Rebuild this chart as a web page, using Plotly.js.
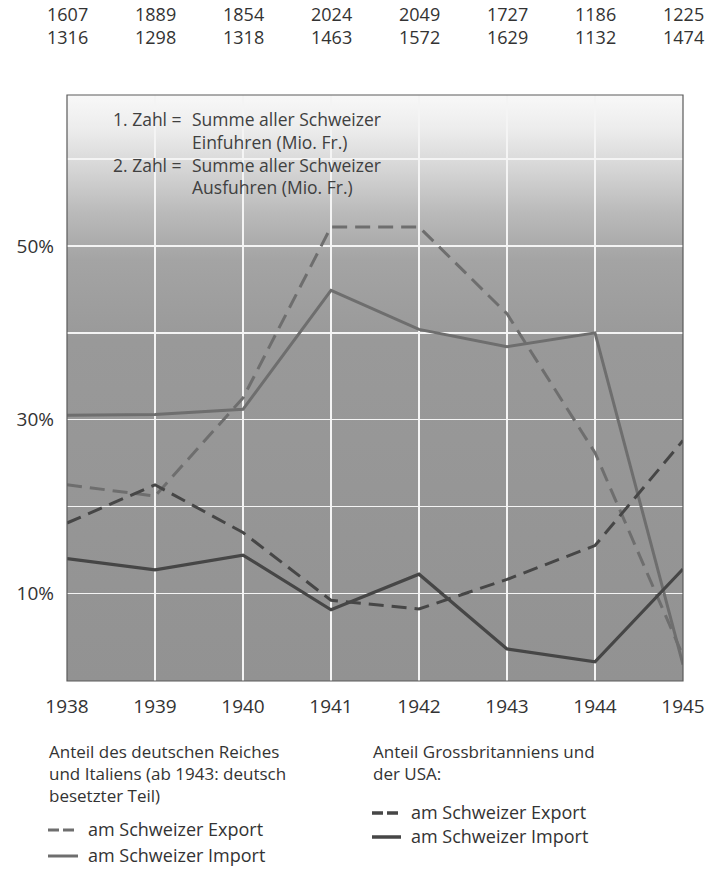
<!DOCTYPE html>
<html>
<head>
<meta charset="utf-8">
<script src="https://cdn.plot.ly/plotly-3.0.1.min.js"></script>
<style>
  html, body { margin: 0; padding: 0; background: #ffffff; }
  #chart { width: 712px; height: 875px; }
</style>
</head>
<body>
<div id="chart"></div>
<script>
// ---- data ----
const years = [1938, 1939, 1940, 1941, 1942, 1943, 1944, 1945];
// Summe aller Schweizer Einfuhren / Ausfuhren (Mio. Fr.)
const einfuhren = [1607, 1889, 1854, 2024, 2049, 1727, 1186, 1225];
const ausfuhren = [1316, 1298, 1318, 1463, 1572, 1629, 1132, 1474];
// Anteil deutsches Reich und Italien (%)
const dExport = [22.5, 21.2, 32.5, 52.2, 52.2, 42.2, 26.2, 2.8];
const dImport = [30.5, 30.6, 31.2, 44.9, 40.4, 38.4, 40.0, 1.8];
// Anteil Grossbritannien und USA (%)
const gbExport = [18.1, 22.5, 17.0, 9.2, 8.2, 11.6, 15.5, 27.6];
const gbImport = [14.0, 12.7, 14.4, 8.1, 12.2, 3.6, 2.1, 12.8];
// y tick labels
const yTickVals = [10, 20, 30, 40, 50, 60];
const yTickText = ['10%', '', '30%', '', '50%', ''];

const FONT = 'Open Sans, Noto Sans, sans-serif';
const TXT = '#333333';
const LIGHT = '#6e6e6e';
const DARK = '#464646';

// background gradient image (SVG data URI)
const svg = '<svg xmlns="http://www.w3.org/2000/svg" width="100" height="100" preserveAspectRatio="none">' +
  '<defs><linearGradient id="g" x1="0" y1="0" x2="0" y2="1">' +
  '<stop offset="0" stop-color="#f8f8f8"/>' +
  '<stop offset="0.06" stop-color="#ececec"/>' +
  '<stop offset="0.13" stop-color="#d4d4d4"/>' +
  '<stop offset="0.2" stop-color="#bababa"/>' +
  '<stop offset="0.28" stop-color="#a4a4a4"/>' +
  '<stop offset="0.42" stop-color="#999999"/>' +
  '<stop offset="1" stop-color="#929292"/>' +
  '</linearGradient></defs><rect width="100" height="100" fill="url(#g)"/></svg>';
const bgUri = 'data:image/svg+xml;base64,' + btoa(svg);

const traces = [
  {x: years, y: dExport, mode: 'lines', line: {color: LIGHT, width: 3, dash: '15px,8px'}, name: 'D Export'},
  {x: years, y: dImport, mode: 'lines', line: {color: LIGHT, width: 3}, name: 'D Import'},
  {x: years, y: gbExport, mode: 'lines', line: {color: DARK, width: 3, dash: '15px,8px'}, name: 'GB Export'},
  {x: years, y: gbImport, mode: 'lines', line: {color: DARK, width: 3.2}, name: 'GB Import'}
];

const W = 712, H = 875, mL = 67, mR = 29, mT = 95, mB = 194;
const pw = W - mL - mR, ph = H - mT - mB;
function px(x) { return (x - mL) / pw; }
function py(y) { return (H - mB - y) / ph; }

const annotations = [];
// top numbers (Einfuhren over Ausfuhren)
years.forEach((yr, i) => {
  annotations.push({
    x: yr, xref: 'x', y: py(26), yref: 'paper', yanchor: 'middle',
    text: einfuhren[i] + '<br>' + ausfuhren[i], showarrow: false, align: 'center',
    font: {family: FONT, size: 18, color: TXT}
  });
});
function txt(x, y, s, anchor, size, color, yanchor) {
  annotations.push({x: px(x), y: py(y), xref: 'paper', yref: 'paper', text: s, showarrow: false,
    xanchor: anchor, yanchor: yanchor || 'middle', align: anchor === 'right' ? 'right' : 'left',
    font: {family: FONT, size: size || 18, color: color || TXT}});
}
const IN = '#404040';
txt(184, 105, '1. Zahl =<br> <br>2. Zahl =', 'right', 17.5, IN, 'top');
txt(190, 105, 'Summe aller Schweizer<br>Einfuhren (Mio. Fr.)<br>Summe aller Schweizer<br>Ausfuhren (Mio. Fr.)', 'left', 17.5, IN, 'top');
// bottom legend text
txt(47, 738, 'Anteil des deutschen Reiches<br>und Italiens (ab 1943: deutsch<br>besetzter Teil)', 'left', 17, TXT, 'top');
txt(86, 829, 'am Schweizer Export', 'left');
txt(86, 855, 'am Schweizer Import', 'left');
txt(371, 738, 'Anteil Grossbritanniens und<br>der USA:', 'left', 17, TXT, 'top');
txt(409, 812, 'am Schweizer Export', 'left');
txt(409, 836, 'am Schweizer Import', 'left');

const shapes = [
  // frame
  {type: 'rect', xref: 'paper', yref: 'paper', x0: 0, x1: 1, y0: 0, y1: 1, line: {color: '#5a5a5a', width: 1.2}, layer: 'above'},
  // legend symbols
  {type: 'line', xref: 'paper', yref: 'paper', x0: px(48), x1: px(78), y0: py(830), y1: py(830), line: {color: LIGHT, width: 3, dash: '11px,4px'}},
  {type: 'line', xref: 'paper', yref: 'paper', x0: px(48), x1: px(78), y0: py(856), y1: py(856), line: {color: LIGHT, width: 3}},
  {type: 'line', xref: 'paper', yref: 'paper', x0: px(372), x1: px(401), y0: py(813), y1: py(813), line: {color: DARK, width: 3.5, dash: '11px,4px'}},
  {type: 'line', xref: 'paper', yref: 'paper', x0: px(372), x1: px(401), y0: py(837), y1: py(837), line: {color: DARK, width: 3.5}}
];

const layout = {
  width: W, height: H,
  margin: {l: mL, r: mR, t: mT, b: mB},
  paper_bgcolor: '#ffffff',
  plot_bgcolor: 'rgba(0,0,0,0)',
  showlegend: false,
  font: {family: FONT, color: TXT, size: 18},
  xaxis: {
    range: [1938, 1945], tickvals: years, ticktext: years.map(String),
    showgrid: true, gridcolor: '#f4f4f4', gridwidth: 1.6, zeroline: false,
    showline: false, ticks: '', ticklabelstandoff: 12,
    tickfont: {family: FONT, size: 19, color: TXT}
  },
  yaxis: {
    range: [-0.1, 67.4], tickvals: yTickVals, ticktext: yTickText,
    showgrid: true, gridcolor: '#f4f4f4', gridwidth: 1.6, zeroline: false,
    showline: false, ticks: '', ticklabelstandoff: 12,
    tickfont: {family: FONT, size: 19, color: TXT}
  },
  images: [{source: bgUri, xref: 'paper', yref: 'paper', x: 0, y: 1, sizex: 1, sizey: 1,
    xanchor: 'left', yanchor: 'top', sizing: 'stretch', layer: 'below'}],
  annotations: annotations,
  shapes: shapes
};

Plotly.newPlot('chart', traces, layout, {displayModeBar: false, staticPlot: true});
</script>
</body>
</html>
